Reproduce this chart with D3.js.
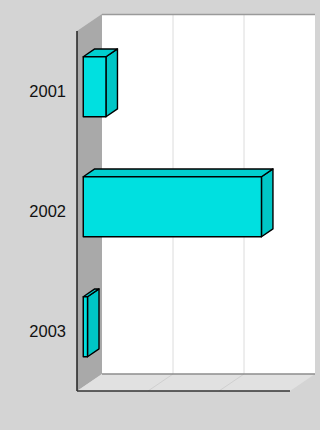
<!DOCTYPE html>
<html>
<head>
<meta charset="utf-8">
<script src="https://cdn.jsdelivr.net/npm/d3@7"></script>
<style>
  html, body { margin: 0; padding: 0; background: #d4d4d4; }
  svg { display: block; }
</style>
</head>
<body>
<svg id="chart" width="320" height="430"></svg>
<script>
// Yearly values, drawn as horizontal 3D bars
const categories = ["2001", "2002", "2003"];
const values = [32, 251, 6];
const gridTicks = [0, 100, 200, 300];

(function () {
  const W = 320, H = 430;
  const svg = d3.select("#chart");

  // Front plane of the plot box and the depth offset of the walls
  const pLeft = 77, pRight = 290, pTop = 31, pBottom = 391;
  const DX = 25, DY = 17;
  // Bars sit between these fractions of the depth
  const zFront = 0.25, zBack = 0.71;

  const x = d3.scaleLinear().domain([0, 300]).range([pLeft, pRight]);
  const y = d3.scaleBand().domain(categories).range([pTop, pBottom])
    .paddingInner(0.5).paddingOuter(0.25);
  const yLabel = d3.scaleBand().domain(categories).range([pTop, pBottom]);

  // project (screen x, screen y at front plane, depth fraction)
  const P = (px, py, z) => [px + z * DX, py - z * DY];
  const poly = pts => pts.map(p => p.join(",")).join(" ");

  svg.append("rect").attr("width", W).attr("height", H).attr("fill", "#d4d4d4");

  // back wall
  svg.append("rect")
    .attr("x", pLeft + DX).attr("y", pTop - DY)
    .attr("width", pRight - pLeft).attr("height", pBottom - pTop)
    .attr("fill", "#ffffff");

  // left side wall
  svg.append("polygon")
    .attr("points", poly([[pLeft, pTop], P(pLeft, pTop, 1), P(pLeft, pBottom, 1), [pLeft, pBottom]]))
    .attr("fill", "#a9a9a9");

  // floor
  svg.append("polygon")
    .attr("points", poly([[pLeft, pBottom], P(pLeft, pBottom, 1), P(pRight, pBottom, 1), [pRight, pBottom]]))
    .attr("fill", "#e1e1e1");

  // gridlines on back wall and floor
  const inner = gridTicks.slice(1, -1);
  svg.append("g").selectAll("line").data(inner).join("line")
    .attr("x1", d => x(d) + DX).attr("x2", d => x(d) + DX)
    .attr("y1", pTop - DY).attr("y2", pBottom - DY)
    .attr("stroke", "#dcdcdc").attr("stroke-width", 1);
  svg.append("g").selectAll("line").data(inner).join("line")
    .attr("x1", d => x(d)).attr("y1", pBottom)
    .attr("x2", d => x(d) + DX).attr("y2", pBottom - DY)
    .attr("stroke", "#d0d0d0").attr("stroke-width", 1);

  // wall edges
  svg.append("line")
    .attr("x1", pLeft + DX).attr("x2", pRight + DX)
    .attr("y1", pTop - DY + 0.5).attr("y2", pTop - DY + 0.5)
    .attr("stroke", "#9a9a9a").attr("stroke-width", 1.5);
  svg.append("line")
    .attr("x1", pLeft + DX).attr("x2", pRight + DX)
    .attr("y1", pBottom - DY).attr("y2", pBottom - DY)
    .attr("stroke", "#8c8c8c").attr("stroke-width", 1.5);

  // bars
  const bars = svg.append("g").selectAll("g").data(categories).join("g");
  bars.each(function (c, i) {
    const g = d3.select(this);
    const x0 = x(0), x1 = x(values[i]);
    const y0 = y(c), y1 = y(c) + y.bandwidth();
    const fTL = P(x0, y0, zFront), fTR = P(x1, y0, zFront),
          fBR = P(x1, y1, zFront), fBL = P(x0, y1, zFront);
    const bTL = P(x0, y0, zBack), bTR = P(x1, y0, zBack), bBR = P(x1, y1, zBack);
    const draw = (pts, fill) => g.append("polygon")
      .attr("points", poly(pts)).attr("fill", fill)
      .attr("stroke", "#000").attr("stroke-width", 1.4)
      .attr("stroke-linejoin", "round");
    draw([fTR, bTR, bBR, fBR], "#00c6c6");
    draw([fTL, bTL, bTR, fTR], "#00cfcf");
    draw([fTL, fTR, fBR, fBL], "#00e0e0");
  });

  // axis lines on the front plane
  svg.append("line")
    .attr("x1", pLeft).attr("x2", pLeft).attr("y1", pTop).attr("y2", pBottom)
    .attr("stroke", "#222").attr("stroke-width", 1.5);
  svg.append("line")
    .attr("x1", pLeft).attr("x2", pRight).attr("y1", pBottom).attr("y2", pBottom)
    .attr("stroke", "#333").attr("stroke-width", 1.5);

  // category labels
  svg.append("g").selectAll("text").data(categories).join("text")
    .attr("x", 66)
    .attr("y", d => yLabel(d) + yLabel.bandwidth() / 2)
    .attr("dy", "0.36em")
    .attr("text-anchor", "end")
    .attr("font-family", "Arial, 'Liberation Sans', sans-serif")
    .attr("font-size", 16.5)
    .attr("fill", "#111")
    .text(d => d);
})();
</script>
</body>
</html>
